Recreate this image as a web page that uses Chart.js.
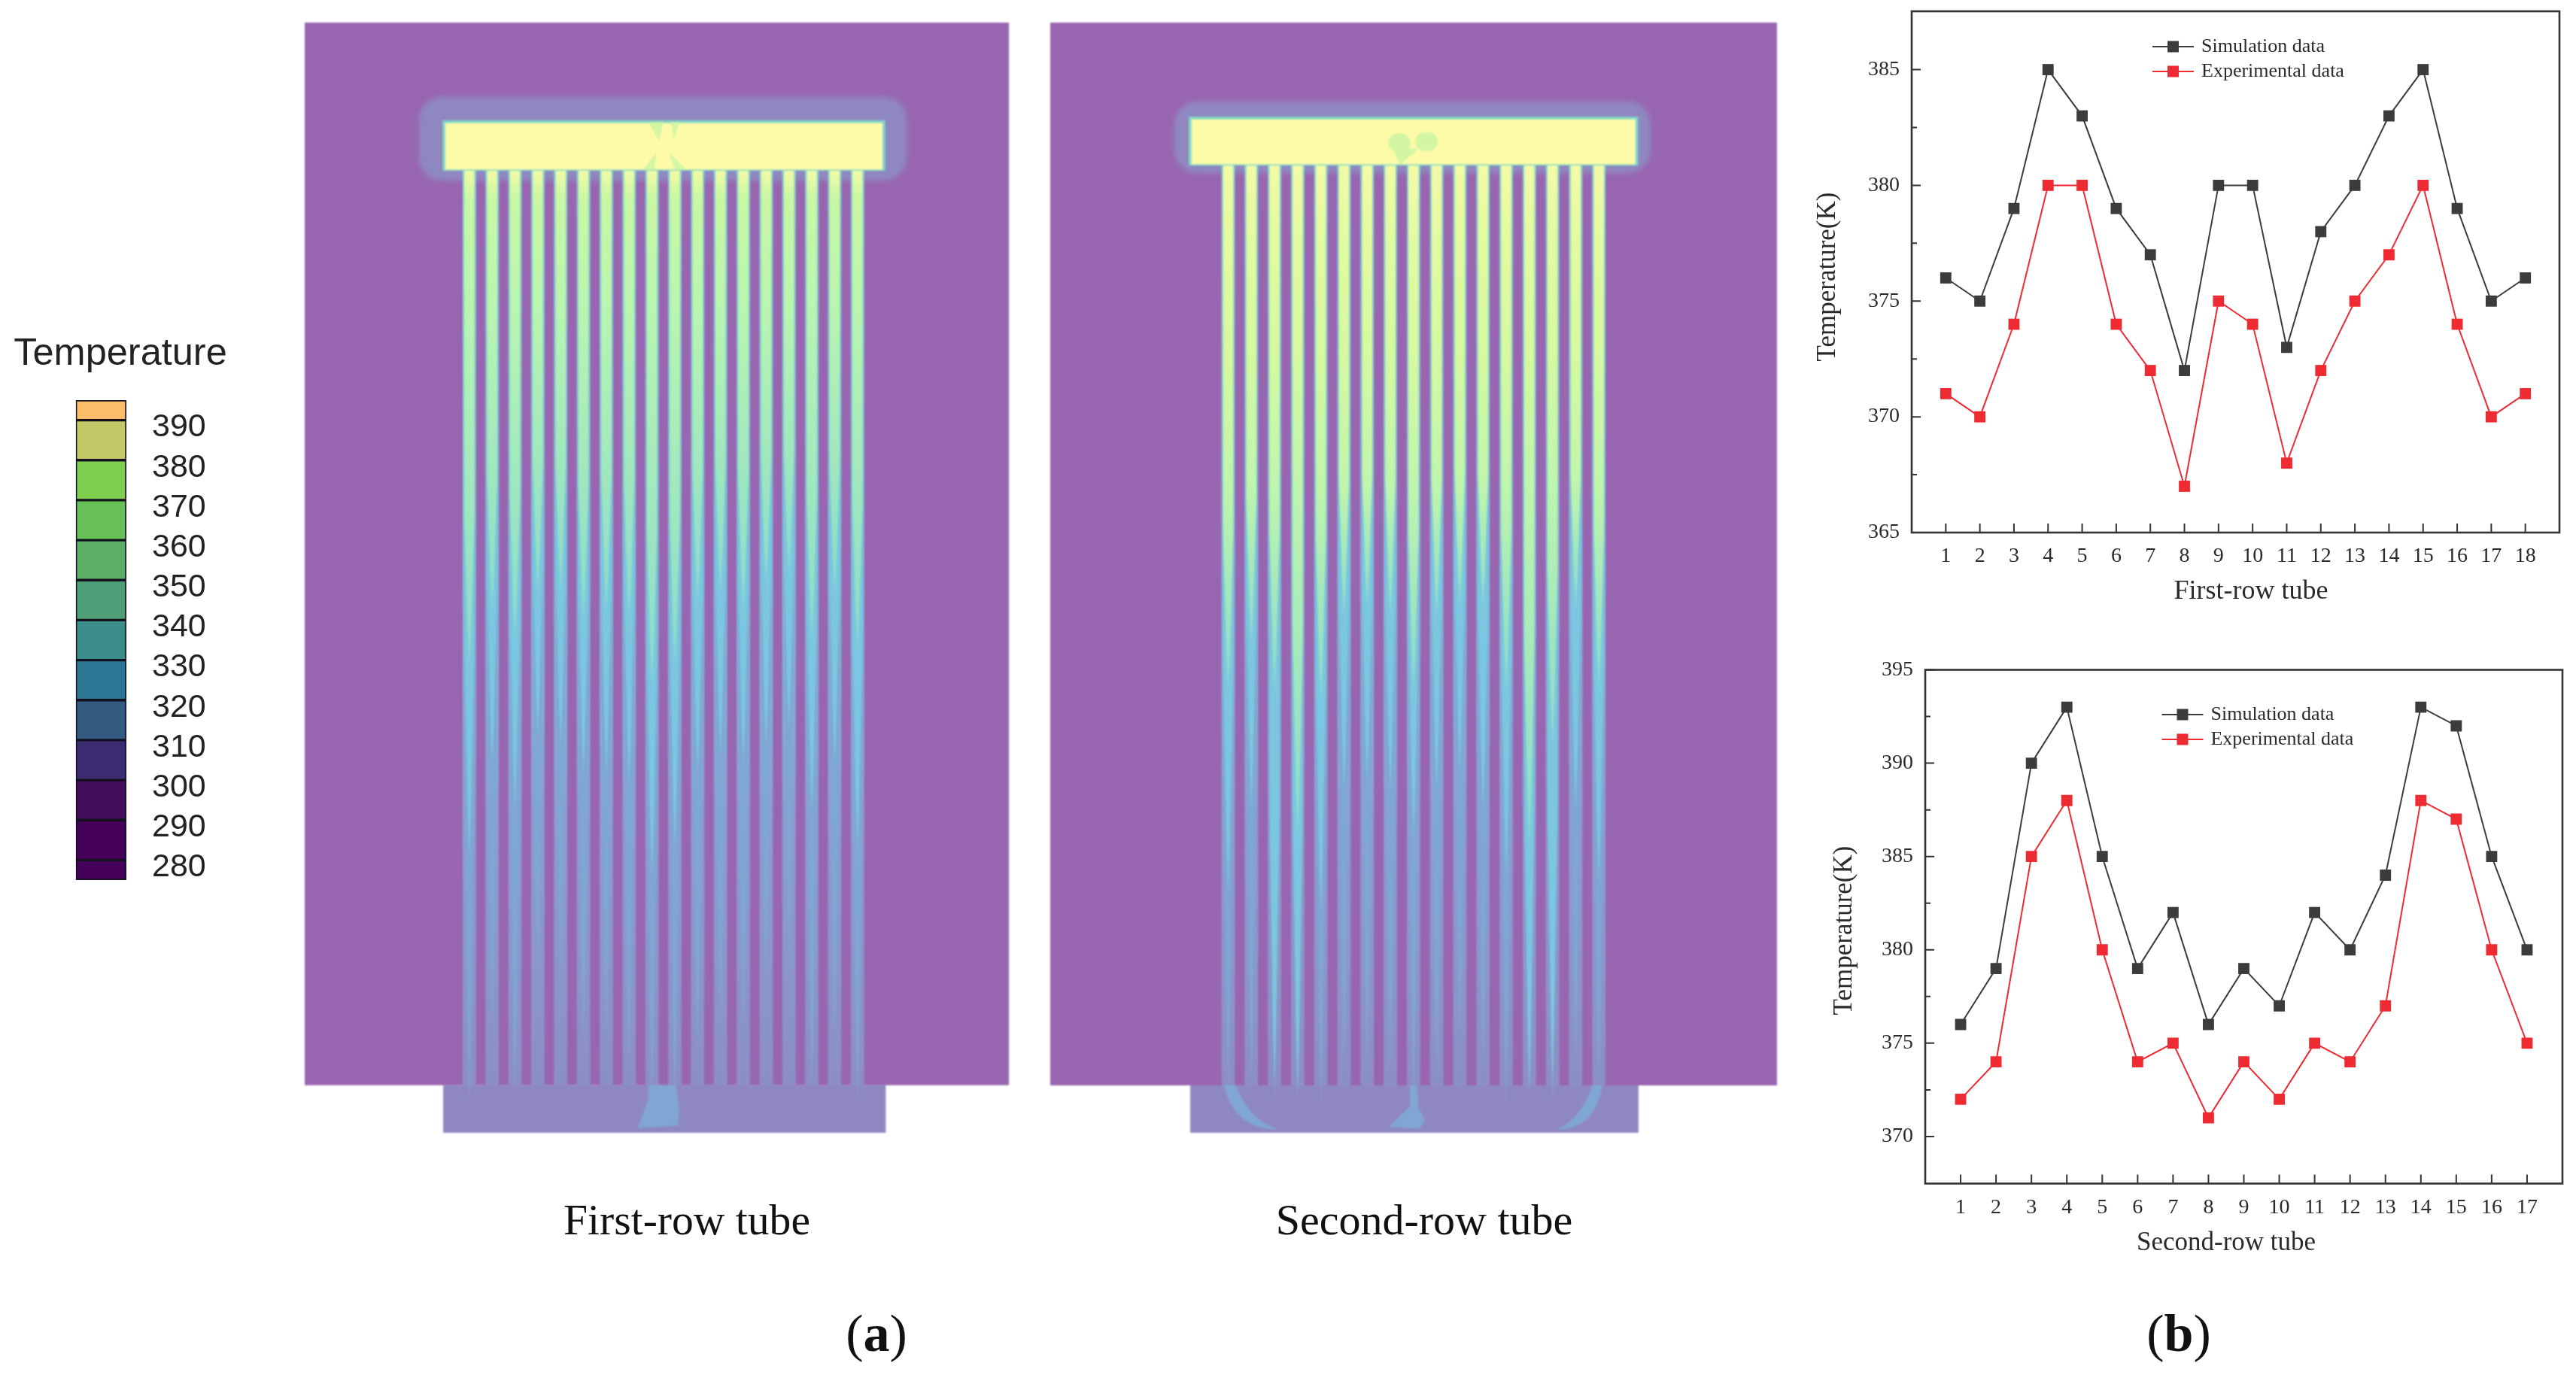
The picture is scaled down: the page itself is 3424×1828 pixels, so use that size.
<!DOCTYPE html>
<html>
<head>
<meta charset="utf-8">
<title>Tube temperature</title>
<script src="https://cdn.jsdelivr.net/npm/chart.js@4/dist/chart.umd.min.js"></script>
<style>
  html, body { margin: 0; background: #fff; }
  body { position: relative; width: 3424px; height: 1828px; overflow: hidden; }
  canvas { position: absolute; }
  .field { filter: blur(0.9px); }
  .plot { filter: blur(0.4px); }
  .txt { position: absolute; transform: translate(-50%, -50%); white-space: nowrap; color: #111; font-family: "Liberation Serif", serif; }
</style>
</head>
<body>
<canvas id="fieldA" class="field" width="936" height="1476" style="left:405px;top:30px"></canvas>
<canvas id="fieldB" class="field" width="966" height="1476" style="left:1396px;top:30px"></canvas>
<canvas id="colorbar" width="280" height="700" style="left:40px;top:500px"></canvas>
<canvas id="firstRow" class="plot" width="1039" height="850" style="left:2385px;top:0"></canvas>
<canvas id="secondRow" class="plot" width="1024" height="820" style="left:2400px;top:860px"></canvas>

<div class="txt" style="left:160px;top:467px;font:50.5px 'Liberation Sans',sans-serif;color:#222">Temperature</div>
<div class="txt" style="left:913px;top:1621px;font-size:57.6px">First-row tube</div>
<div class="txt" style="left:1893px;top:1621px;font-size:58px">Second-row tube</div>
<div class="txt" style="left:1165px;top:1773px;font-size:70px">(<b>a</b>)</div>
<div class="txt" style="left:2896px;top:1773px;font-size:70px">(<b>b</b>)</div>

<script>
// line chart values
const firstRowTubes = [1, 2, 3, 4, 5, 6, 7, 8, 9, 10, 11, 12, 13, 14, 15, 16, 17, 18];
const firstRowSim = [376, 375, 379, 385, 383, 379, 377, 372, 380, 380, 373, 378, 380, 383, 385, 379, 375, 376];
const firstRowExp = [371, 370, 374, 380, 380, 374, 372, 367, 375, 374, 368, 372, 375, 377, 380, 374, 370, 371];
const firstRowTicks = [365, 370, 375, 380, 385];

const secondRowTubes = [1, 2, 3, 4, 5, 6, 7, 8, 9, 10, 11, 12, 13, 14, 15, 16, 17];
const secondRowSim = [376, 379, 390, 393, 385, 379, 382, 376, 379, 377, 382, 380, 384, 393, 392, 385, 380];
const secondRowExp = [372, 374, 385, 388, 380, 374, 375, 371, 374, 372, 375, 374, 377, 388, 387, 380, 375];
const secondRowTicks = [370, 375, 380, 385, 390, 395];

// colour bar
const barLevels = [275, 280, 290, 300, 310, 320, 330, 340, 350, 360, 370, 380, 390, 395];
const barColors = ['#45005a', '#45005a', '#430e5b', '#3c2d72', '#345a82', '#2d7795', '#3a8d8a', '#4e9e78', '#5caf67', '#68c059', '#80d04f', '#c4c866', '#fbbd68'];
const barTicks = [280, 290, 300, 310, 320, 330, 340, 350, 360, 370, 380, 390];

// contour fields: depth along each tube (% of tube length) where the colour band ends
const firstGreenEnd = [54, 48, 51, 46, 46, 49, 48, 49, 56, 54, 47, 46, 48, 45, 44, 51, 46, 52];
const firstCyanEnd = [75, 65, 70, 62, 63, 66, 66, 67, 77, 74, 66, 64, 65, 63, 61, 70, 65, 74];
const firstBlueEnd = [102, 94, 101, 87, 89, 95, 95, 98, 102, 102, 96, 93, 94, 89, 86, 100, 95, 102];

const secondGreenEnd = [57, 52, 57, 73, 58, 49, 48, 49, 57, 49, 48, 48, 57, 74, 63, 48, 57];
const secondCyanEnd = [79, 70, 100, 101, 81, 68, 67, 68, 73, 68, 66, 70, 77, 101, 100, 70, 78];
const secondBlueEnd = [100, 99, 102, 101, 102, 98, 97, 98, 102, 99, 95, 98, 102, 101, 102, 97, 100];

const SERIF = '"Liberation Serif", serif';
const INK = '#2a2a2a';
const DARK = '#3c3c3c';
const RED = '#ee2a33';

// frame, inward ticks, legend and axis titles of the line charts
const plotDecor = {
  id: 'plotDecor',
  afterDatasetsDraw(chart, args, opts) {
    const { ctx, chartArea: a, scales: { x, y } } = chart;
    ctx.save();
    ctx.strokeStyle = '#333';
    ctx.lineWidth = 2;
    ctx.beginPath();
    x.ticks.forEach(t => {
      const px = x.getPixelForValue(t.value);
      ctx.moveTo(px, a.bottom);
      ctx.lineTo(px, a.bottom - 12);
    });
    y.ticks.forEach((t, i) => {
      const py = y.getPixelForValue(t.value);
      ctx.moveTo(a.left, py);
      ctx.lineTo(a.left + 12, py);
      if (i > 0) {
        const my = y.getPixelForValue((t.value + y.ticks[i - 1].value) / 2);
        ctx.moveTo(a.left, my);
        ctx.lineTo(a.left + 7, my);
      }
    });
    ctx.stroke();
    ctx.lineWidth = 2.6;
    ctx.strokeRect(a.left, a.top, a.right - a.left, a.bottom - a.top);

    // legend
    const lx = a.left + opts.legendX * (a.right - a.left);
    const ly = a.top + opts.legendY * (a.bottom - a.top);
    ctx.font = '26px ' + SERIF;
    ctx.textBaseline = 'middle';
    chart.data.datasets.forEach((ds, i) => {
      const yy = ly + i * 33;
      ctx.strokeStyle = ds.borderColor;
      ctx.lineWidth = 2;
      ctx.beginPath();
      ctx.moveTo(lx, yy);
      ctx.lineTo(lx + 55, yy);
      ctx.stroke();
      ctx.fillStyle = ds.pointBackgroundColor;
      ctx.fillRect(lx + 20, yy - 7.5, 15, 15);
      ctx.fillStyle = INK;
      ctx.fillText(ds.label, lx + 65, yy);
    });

    // axis titles
    ctx.fillStyle = INK;
    ctx.textAlign = 'center';
    ctx.font = opts.xTitleSize + 'px ' + SERIF;
    ctx.fillText(opts.xTitle, opts.xTitleX, opts.xTitleY);
    ctx.translate(opts.yTitleX, opts.yTitleY);
    ctx.rotate(-Math.PI / 2);
    ctx.font = '35px ' + SERIF;
    ctx.fillText(opts.yTitle, 0, 0);
    ctx.restore();
  }
};

function lineChart(id, tubes, sim, exp, yTicks, yRange, xMax, scaleW, scaleH, pad, decor) {
  const toPoints = vals => vals.map((v, i) => ({ x: tubes[i], y: v }));
  const series = (label, vals, color) => ({
    label: label,
    data: toPoints(vals),
    borderColor: color,
    backgroundColor: color,
    pointBackgroundColor: color,
    pointBorderColor: color,
    pointBorderWidth: 0,
    pointStyle: 'rect',
    pointRadius: 10.5,
    borderWidth: 2,
    tension: 0
  });
  return new Chart(document.getElementById(id), {
    type: 'line',
    data: { datasets: [series('Simulation data', sim, DARK), series('Experimental data', exp, RED)] },
    options: {
      responsive: false,
      animation: false,
      events: [],
      layout: { padding: pad },
      plugins: { legend: { display: false }, tooltip: { enabled: false }, plotDecor: decor },
      scales: {
        x: {
          type: 'linear',
          min: 0,
          max: xMax,
          grid: { display: false, drawTicks: false },
          border: { display: false },
          afterBuildTicks: s => { s.ticks = tubes.map(v => ({ value: v })); },
          afterFit: s => { s.height = scaleH; s.paddingLeft = 0; s.paddingRight = 0; },
          ticks: { autoSkip: false, maxRotation: 0, padding: 15, color: INK, font: { family: SERIF, size: 28 } }
        },
        y: {
          type: 'linear',
          min: yRange[0],
          max: yRange[1],
          grid: { display: false, drawTicks: false },
          border: { display: false },
          afterBuildTicks: s => { s.ticks = yTicks.map(v => ({ value: v })); },
          // tick padding would otherwise push the plot area in
          afterFit: s => { s.width = scaleW; s.paddingTop = 0; s.paddingBottom = 0; },
          ticks: { padding: 16, color: INK, font: { family: SERIF, size: 28 } }
        }
      }
    },
    plugins: [plotDecor]
  });
}

lineChart('firstRow', firstRowTubes, firstRowSim, firstRowExp, firstRowTicks, [365, 387.52], 19, 156, 142,
  { top: 15, right: 22, left: 0, bottom: 0 },
  { legendX: 0.3717, legendY: 0.0678, xTitle: 'First-row tube', xTitleSize: 36, xTitleX: 607, xTitleY: 787,
    yTitle: 'Temperature(K)', yTitleX: 45, yTitleY: 368 });

lineChart('secondRow', secondRowTubes, secondRowSim, secondRowExp, secondRowTicks, [367.48, 395], 18, 159, 106.5,
  { top: 30.5, right: 18, left: 0, bottom: 0 },
  { legendX: 0.3713, legendY: 0.0871, xTitle: 'Second-row tube', xTitleSize: 35, xTitleX: 559, xTitleY: 793,
    yTitle: 'Temperature(K)', yTitleX: 52, yTitleY: 377 });

// colour bar: one floating bar per band
new Chart(document.getElementById('colorbar'), {
  type: 'bar',
  data: {
    labels: ['T'],
    datasets: barColors.map((c, i) => ({
      data: [[barLevels[i], barLevels[i + 1]]],
      backgroundColor: c,
      borderColor: '#15121f',
      borderWidth: 2,
      borderSkipped: false,
      grouped: false,
      barPercentage: 1,
      categoryPercentage: 1
    }))
  },
  options: {
    responsive: false,
    animation: false,
    events: [],
    layout: { padding: { left: 60.7, top: 32, bottom: 30, right: 0 } },
    plugins: { legend: { display: false }, tooltip: { enabled: false } },
    scales: {
      x: { display: false },
      y: {
        position: 'right',
        min: 275,
        max: 395,
        grid: { display: false, drawTicks: false },
        border: { display: false },
        afterBuildTicks: s => { s.ticks = barTicks.map(v => ({ value: v })); },
        afterFit: s => { s.width = 152; s.paddingTop = 0; s.paddingBottom = 0; },
        ticks: { padding: 34, labelOffset: 10, color: '#222', font: { family: '"Liberation Sans", sans-serif', size: 43 } }
      }
    }
  }
});

// contour panels: tubes are floating bars on a (tube number, depth %) plane
const PURPLE = '#9866b0';
const LILAC = '#8f88c0';
const STREAK = '#80a6d3';

function tapered(ctx, x, hw, y0, y1, taper) {
  const yt = y1 - (y1 - y0) * taper;
  ctx.beginPath();
  ctx.moveTo(x - hw, y0);
  ctx.lineTo(x - hw, yt);
  ctx.lineTo(x - hw * 0.35, y1 - (y1 - yt) * 0.25);
  ctx.lineTo(x, y1);
  ctx.lineTo(x + hw * 0.35, y1 - (y1 - yt) * 0.25);
  ctx.lineTo(x + hw, yt);
  ctx.lineTo(x + hw, y0);
  ctx.closePath();
  ctx.fill();
}

const tubeField = {
  id: 'tubeField',
  beforeDatasetsDraw(chart, args, o) {
    const { ctx, scales: { x, y } } = chart;
    const X = v => x.getPixelForValue(v);
    const Y = v => y.getPixelForValue(v);
    ctx.save();
    ctx.fillStyle = PURPLE;
    ctx.fillRect(X(x.min), Y(y.min), X(x.max) - X(x.min), Y(100) - Y(y.min));
    ctx.fillStyle = LILAC;
    ctx.fillRect(X(o.blockX[0]), Y(100), X(o.blockX[1]) - X(o.blockX[0]), Y(y.max) - Y(100));
    ctx.filter = 'blur(3px)';
    ctx.beginPath();
    ctx.roundRect(X(o.haloX[0]), Y(o.haloY[0]), X(o.haloX[1]) - X(o.haloX[0]), Y(o.haloY[1]) - Y(o.haloY[0]), 30);
    ctx.fill();
    ctx.restore();
  },
  afterDatasetsDraw(chart, args, o) {
    const { ctx, scales: { x, y } } = chart;
    const X = v => x.getPixelForValue(v);
    const Y = v => y.getPixelForValue(v);
    ctx.save();
    o.tubes.forEach((t, i) => {
      const px = X(t);
      ctx.fillStyle = STREAK;
      tapered(ctx, px, 7, Y(0), Y(o.blueEnd[i]), 0.4);
      ctx.fillStyle = '#7bc7df';
      tapered(ctx, px, 6.5, Y(0), Y(o.cyanEnd[i]), 0.3);
      const ge = o.greenEnd[i];
      const g = ctx.createLinearGradient(0, Y(0), 0, Y(ge));
      g.addColorStop(0, '#f3fba6');
      o.warmStops.forEach(s => g.addColorStop(Math.min(s[0] / ge, 0.96), s[1]));
      g.addColorStop(1, '#8adccb');
      ctx.fillStyle = g;
      tapered(ctx, px, 6.8, Y(0), Y(ge), 0.3);
    });

    // extra warm streaks reaching the bottom block
    ctx.fillStyle = STREAK;
    o.blobs.forEach(poly => {
      ctx.beginPath();
      poly.forEach((p, i) => (i ? ctx.lineTo(X(p[0]), Y(p[1])) : ctx.moveTo(X(p[0]), Y(p[1]))));
      ctx.closePath();
      ctx.fill();
    });
    o.sweeps.forEach(s => {
      ctx.beginPath();
      ctx.moveTo(X(s[0][0]), Y(s[0][1]));
      ctx.quadraticCurveTo(X(s[1][0]), Y(s[1][1]), X(s[2][0]), Y(s[2][1]));
      ctx.quadraticCurveTo(X(s[3][0]), Y(s[3][1]), X(s[4][0]), Y(s[4][1]));
      ctx.closePath();
      ctx.fill();
    });

    // header box
    const hx = X(o.headX[0]), hw = X(o.headX[1]) - hx, hy = Y(o.headTop), hh = Y(0) - hy;
    ctx.fillStyle = '#80d9c8';
    ctx.fillRect(hx, hy, hw, hh);
    ctx.fillStyle = '#fdfba8';
    ctx.fillRect(hx + 3.5, hy + 3.5, hw - 7, hh - 5);
    ctx.fillStyle = '#d3f6a2';
    o.headMarks.forEach(poly => {
      ctx.beginPath();
      poly.forEach((p, i) => (i ? ctx.lineTo(X(p[0]), Y(p[1])) : ctx.moveTo(X(p[0]), Y(p[1]))));
      ctx.closePath();
      ctx.fill();
    });
    o.headSpots.forEach(s => {
      ctx.beginPath();
      ctx.ellipse(X(s[0]), Y(s[1]), 15, 13, 0, 0, Math.PI * 2);
      ctx.fill();
    });
    ctx.restore();
  }
};

function fieldChart(id, xRange, yRange, tubes, cfg) {
  cfg.tubes = tubes;
  return new Chart(document.getElementById(id), {
    type: 'bar',
    data: {
      datasets: [{
        data: tubes.map(t => ({ x: t, y: [0, 100] })),
        barThickness: 17,
        backgroundColor: c => {
          const sc = c.chart.scales.y;
          if (!c.chart.chartArea || !sc) return LILAC;
          const g = c.chart.ctx.createLinearGradient(0, sc.getPixelForValue(0), 0, sc.getPixelForValue(100));
          g.addColorStop(0, '#86dcd0');
          g.addColorStop(0.45, '#7cc4dc');
          g.addColorStop(0.7, '#8a9fd0');
          g.addColorStop(1, '#8c8fc4');
          return g;
        }
      }]
    },
    options: {
      responsive: false,
      animation: false,
      events: [],
      layout: { padding: 0 },
      plugins: { legend: { display: false }, tooltip: { enabled: false }, tubeField: cfg },
      scales: {
        x: { type: 'linear', display: false, offset: false, min: xRange[0], max: xRange[1] },
        y: { type: 'linear', display: false, reverse: true, min: yRange[0], max: yRange[1] }
      }
    },
    plugins: [tubeField]
  });
}

fieldChart('fieldA', [-6.21, 24.63], [-16.2, 105.2], firstRowTubes, {
  greenEnd: firstGreenEnd, cyanEnd: firstCyanEnd, blueEnd: firstBlueEnd,
  warmStops: [[3, '#c9f8a3'], [15, '#b9f6b0']],
  blockX: [-0.147, 19.24], haloX: [-1.2, 20.15], haloY: [-8.06, 1.07],
  headX: [-0.173, 19.21], headTop: -5.5,
  blobs: [[[8.84, 100], [8.84, 101.5], [8.38, 104.7], [10.13, 104.4], [10.2, 102.6], [10.07, 100.6], [10.07, 100]]],
  sweeps: [],
  headMarks: [
    [[8.85, -5.3], [9.5, -5.3], [9.3, -3.3]],
    [[9.84, -5.3], [10.2, -5.3], [9.95, -3.3]],
    [[8.6, -0.1], [9.2, -2], [9.1, -0.1]],
    [[9.75, -2], [10.5, -0.1], [10, -0.1]]
  ],
  headSpots: []
});

fieldChart('fieldB', [-6.68, 24.69], [-15.54, 105.15], secondRowTubes, {
  greenEnd: secondGreenEnd, cyanEnd: secondCyanEnd, blueEnd: secondBlueEnd,
  warmStops: [[8, '#e3fba0'], [20, '#d6fa9f'], [35, '#bff6ad']],
  blockX: [-0.64, 18.71], haloX: [-1.32, 19.23], haloY: [-6.95, 0.82],
  headX: [-0.70, 18.69], headTop: -5.31,
  blobs: [[[8.84, 100], [8.84, 102.3], [7.93, 104.5], [9.26, 104.7], [9.49, 103.8], [9.2, 102.3], [9.16, 100]]],
  sweeps: [
    [[0.82, 100], [1.25, 104.8], [3.19, 104.8], [1.89, 103.8], [1.34, 100]],
    [[17.15, 100], [16.83, 104.8], [15.17, 104.8], [16.18, 103.8], [16.73, 100]]
  ],
  headMarks: [[[8.1, -2], [9.2, -1.8], [8.4, 0]]],
  headSpots: [[8.39, -2.45], [9.56, -2.6]]
});
</script>
</body>
</html>
